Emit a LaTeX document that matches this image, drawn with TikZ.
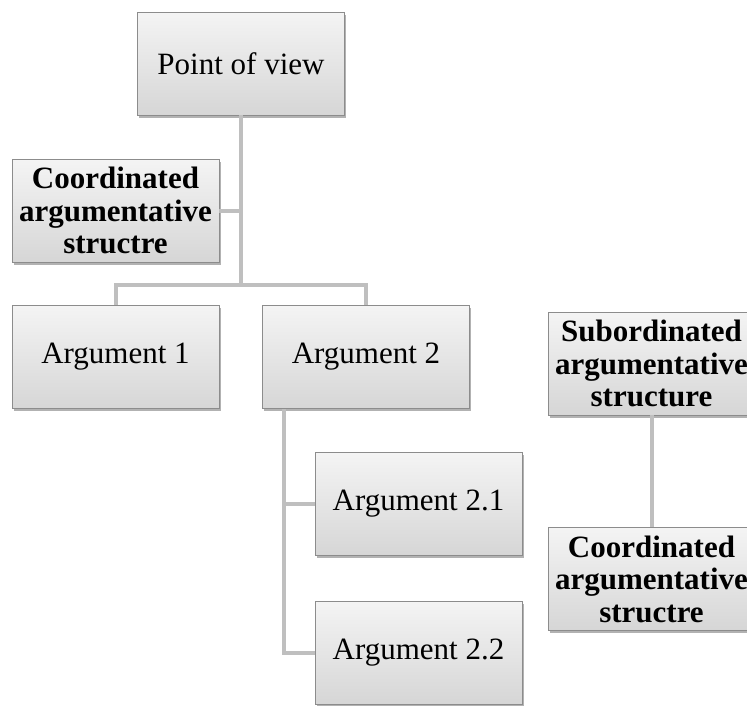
\documentclass[tikz,border=0pt]{standalone}
\usepackage{fontspec}
\setmainfont{Liberation Serif}
\usetikzlibrary{shadows}
\definecolor{boxTop}{RGB}{244,244,244}
\definecolor{boxBottom}{RGB}{214,214,214}
\definecolor{boxEdge}{RGB}{140,140,140}
\definecolor{linkGray}{RGB}{191,191,191}

\begin{document}
\begin{tikzpicture}
[x=1pt,y=-1pt,
 boxDecorate/.style={shape=rectangle,draw=boxEdge,line width=0.8pt,
   minimum width=207pt,minimum height=103pt,inner sep=0pt,align=center,
   top color=boxTop,bottom color=boxBottom,
   drop shadow={shadow xshift=1.5pt,shadow yshift=-2.5pt,opacity=0.3,fill=black},
   font=\fontsize{31}{33}\selectfont},
 boldDecorate/.style={boxDecorate,font=\fontsize{31}{32.5}\selectfont\bfseries},
 linkStyle/.style={draw=linkGray,line width=4pt}]
\useasboundingbox (0,0) rectangle (747,705);
\clip (0,0) rectangle (747,705);
%% boxes
\foreach \nodename/\x/\y/\txt in {
  pov/241/63.5/Point of view, arg1/115.5/357/Argument 1,
  arg2/366/357/Argument 2, arg21/418.5/504/Argument 2.1,
  arg22/418.5/652.5/Argument 2.2}
{
  \node (\nodename) at (\x,\y) [boxDecorate] {\txt};
}
\node (coordA) at (115.5,210.5) [boldDecorate] {Coordinated\\argumentative\\structre};
\node (subord) at (651.5,363.5) [boldDecorate] {Subordinated\\argumentative\\structure};
\node (coordB) at (651.5,579) [boldDecorate] {Coordinated\\argumentative\\structre};
%% links
\coordinate (fork) at (241,285);
\coordinate (spine) at ([xshift=22pt]arg2.south west);
\draw[linkStyle] (pov.south) -- (fork);
\draw[linkStyle] (fork |- coordA.east) -- (coordA.east);
\draw[linkStyle] (fork) -| (arg1.north);
\draw[linkStyle] (fork) -| (arg2.north);
\draw[linkStyle] (spine) |- (arg21.west);
\draw[linkStyle] (spine) |- (arg22.west);
\draw[linkStyle] (subord) -- (coordB);
\end{tikzpicture}
\end{document}
